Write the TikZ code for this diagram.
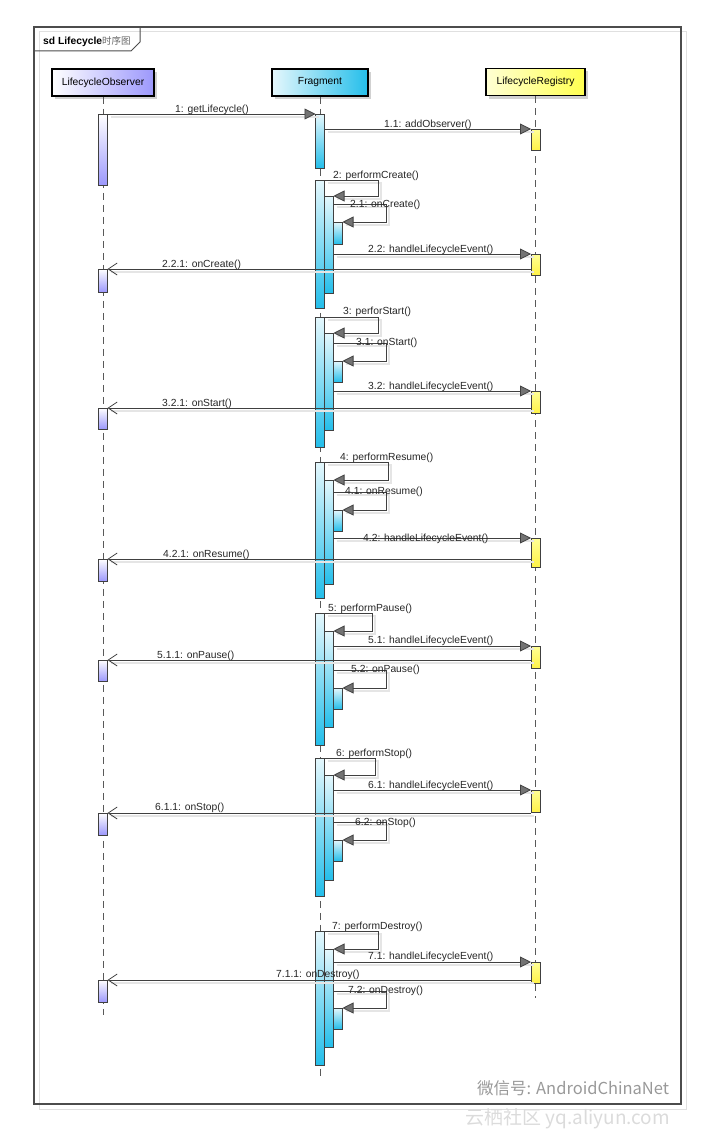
\documentclass[tikz,border=0pt]{standalone}
\usepackage{fontspec}
\setmainfont{Liberation Sans}
\newfontfamily\cjk{Noto Sans CJK SC}
\usetikzlibrary{arrows.meta,shadows}
\definecolor{obsblue}{RGB}{156,152,252}
\definecolor{fragcyan}{RGB}{36,190,234}
\definecolor{regyellow}{RGB}{255,255,80}
\definecolor{inkgray}{RGB}{64,64,64}

\begin{document}
\begin{tikzpicture}[x=1pt,y=-1pt,font=\fontsize{10.3}{12}\selectfont]
    \tikzstyle{head}=[draw=black,line width=1.6pt,minimum height=27pt,inner sep=0pt,
        drop shadow={shadow xshift=3pt,shadow yshift=-3pt,fill=black!18,opacity=1}]
    \tikzstyle{bar}=[draw=inkgray,line width=0.8pt,minimum width=9pt,inner sep=0pt,outer sep=0pt]
    \tikzstyle{obar}=[bar,top color=white,bottom color=obsblue]
    \tikzstyle{fbar}=[bar,top color=fragcyan!12,bottom color=fragcyan]
    \tikzstyle{rbar}=[bar,top color=regyellow!60,bottom color=regyellow!90!orange]
    \tikzstyle{lifeline}=[draw=black!65,line width=0.9pt,dash pattern=on 7pt off 5pt]
    \tikzstyle{sync}=[draw=inkgray,line width=0.8pt,-{Triangle[length=11pt,width=11pt,fill=black!55]},
        preaction={draw=black!10,line width=1.4pt,-,transform canvas={xshift=3pt,yshift=-3pt}}]
    \tikzstyle{reply}=[draw=inkgray,line width=0.8pt,-{Straight Barb[length=9pt,width=12pt]},
        preaction={draw=black!10,line width=1.4pt,-,transform canvas={xshift=3pt,yshift=-3pt}}]
    \tikzstyle{lbl}=[anchor=base west,inner sep=0pt,text=black!85]

    \useasboundingbox (0,0) rectangle (709,1140);

    % frame
    \draw[black!12,line width=1pt] (39,32) rectangle (686,1109);
    \draw[black!70,line width=1.2pt] (34,27) rectangle (681,1104);
    \draw[black!70,line width=1pt] (34,51) -- (131,51) -- (140,42) -- (140,27);
    \node[anchor=base west,inner sep=0pt] (title) at (43,45) {\textbf{sd Lifecycle}{\cjk\fontsize{9.5}{11}\selectfont\color{black!60}时序图}};

    % lifelines
    \node[head,minimum width=102pt,left color=white,right color=obsblue] (obs) at (103,82.5) {LifecycleObserver};
    \node[head,minimum width=96pt,left color=fragcyan!12,right color=fragcyan] (frag) at (320,82.5) {Fragment};
    \node[head,minimum width=99pt,left color=regyellow!25,right color=regyellow] (reg) at (535.5,82) {LifecycleRegistry};
    \coordinate (obs-end) at (103,1015);
    \coordinate (frag-end) at (320,1078);
    \coordinate (reg-end) at (535.5,998);
    \draw[lifeline] (obs) -- (obs-end);
    \draw[lifeline] (frag) -- (frag-end);
    \draw[lifeline] (reg) -- (reg-end);

    % activation bars
    \foreach \n/\t/\b in {1/114/185, 2/269/292, 3/408/429, 4/559/581, 5/660/681, 6/813/835, 7/980/1002}
        \node[obar,minimum height={(\b-\t)*1pt}] (O-\n) at (103,{(\t+\b)/2}) {};
    \foreach \n/\t/\b in {1/129/150, 2/254/275, 3/391/413, 4/538/567, 5/646/668, 6/790/812, 7/962/983}
        \node[rbar,minimum height={(\b-\t)*1pt}] (R-\n) at (535.5,{(\t+\b)/2}) {};
    \foreach \n/\x/\t/\b in {1/320/114/168, 2/320/180/308, 3/320/317/447, 4/320/462/598,
            5/320/613/745, 6/320/758/896, 7/320/931/1065,
            2-a/329/196/293, 3-a/329/333/430, 4-a/329/480/584, 5-a/329/631/727, 6-a/329/775/880, 7-a/329/949/1047,
            2-b/338/222/244, 3-b/338/361/382, 4-b/338/510/531, 5-b/338/688/709, 6-b/338/840/861, 7-b/338/1008/1029}
        \node[fbar,minimum height={(\b-\t)*1pt}] (F-\n) at (\x,{(\t+\b)/2}) {};

    % messages
    \draw[sync] (O-1.north east) -- (F-1.north west);
    \draw[sync] (F-1.east |- R-1.north) -- (R-1.north west);
    \foreach \s/\sx/\cy in {2/378/204, 3/378/343, 4/388/492, 5/372/670, 6/375/822, 7/378/991} {
        \draw[sync] (F-\s.north east) -- (\sx,0 |- F-\s.north) |- (F-\s-a.north east);
        \draw[sync] (F-\s-a.east |- 0,\cy) -- (386,\cy) |- (F-\s-b.north east);
        \draw[sync] (F-\s-a.east |- R-\s.north) -- (R-\s.north west);
        \draw[reply] (R-\s.west |- O-\s.north) -- (O-\s.north east);
    }

    % labels
    \foreach \txt/\x/\y in {{1: getLifecycle()}/175/112, {1.1: addObserver()}/384/127,
            {2: performCreate()}/333/178, {2.1: onCreate()}/350/207,
            {2.2: handleLifecycleEvent()}/368/252, {2.2.1: onCreate()}/162/267,
            {3: perforStart()}/343/314, {3.1: onStart()}/356/345,
            {3.2: handleLifecycleEvent()}/368/389, {3.2.1: onStart()}/162/406,
            {4: performResume()}/340/460, {4.1: onResume()}/345/494,
            {4.2: handleLifecycleEvent()}/363/541, {4.2.1: onResume()}/163/557,
            {5: performPause()}/328/611, {5.1: handleLifecycleEvent()}/368/643,
            {5.1.1: onPause()}/157/658, {5.2: onPause()}/351/672,
            {6: performStop()}/336/756, {6.1: handleLifecycleEvent()}/368/788,
            {6.1.1: onStop()}/155/810, {6.2: onStop()}/355/825,
            {7: performDestroy()}/332/929, {7.1: handleLifecycleEvent()}/368/959,
            {7.1.1: onDestroy()}/276/977, {7.2: onDestroy()}/348/993}
        \node[lbl] at (\x,\y) {\txt};

    % watermarks
    \node[anchor=base west,inner sep=0pt,text=black!40] (wechat) at (477,1094) {\cjk\fontsize{16.5}{18}\selectfont 微信号: AndroidChinaNet};
    \node[anchor=base west,inner sep=0pt,text=black!14] (yunqi) at (465,1124) {\cjk\fontsize{19}{21}\selectfont 云栖社区 yq.aliyun.com};
\end{tikzpicture}
\end{document}
